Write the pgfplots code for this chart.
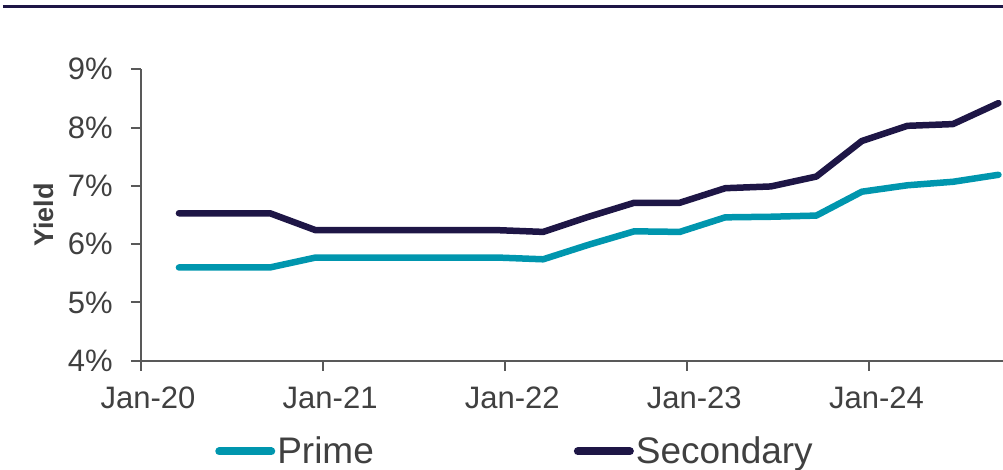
\documentclass[border=0pt]{standalone}
\usepackage{fontspec}
\setmainfont{Liberation Sans}
\usepackage{pgfplots}
\usepackage{pgfplotstable}
\pgfplotsset{compat=1.18}

\definecolor{prime}{HTML}{0096AE}
\definecolor{secondary}{HTML}{1E1646}
\definecolor{axisgrey}{HTML}{595959}
\definecolor{textgrey}{HTML}{404040}

% quarterly yields, x in months from Jan-20
\pgfplotstableread{
x     prime secondary
2.5   5.60  6.53
5.5   5.60  6.53
8.5   5.60  6.53
11.5  5.77  6.24
14.5  5.77  6.24
17.5  5.77  6.24
20.5  5.77  6.24
23.5  5.77  6.24
26.5  5.74  6.21
29.5  5.99  6.47
32.5  6.22  6.71
35.5  6.21  6.71
38.5  6.46  6.96
41.5  6.47  6.99
44.5  6.49  7.16
47.5  6.90  7.77
50.5  7.01  8.03
53.5  7.07  8.06
56.5  7.19  8.42
}\yields

\begin{document}
\begin{tikzpicture}
\useasboundingbox (-141pt,-108.3pt) rectangle (862pt,360.7pt);
\begin{axis}[
    at={(0pt,0pt)}, anchor=south west,
    scale only axis,
    width=862pt, height=291.4pt,
    xmin=0, xmax=56.8,
    ymin=4, ymax=9,
    axis lines=left,
    axis line style={-, axisgrey, line width=2pt},
    tick style={axisgrey, line width=2pt},
    tick align=outside,
    major tick length=10pt,
    xtick={0,12,24,36,48},
    xticklabels={Jan-20,Jan-21,Jan-22,Jan-23,Jan-24},
    ytick={4,5,6,7,8,9},
    yticklabels={4\%,5\%,6\%,7\%,8\%,9\%},
    ticklabel style={font=\fontsize{31}{36}\selectfont, text=textgrey},
    xticklabel style={anchor=north, inner sep=0pt, yshift=-16pt, xshift=7pt},
    yticklabel style={anchor=east, inner sep=0pt, xshift=-18pt},
    ylabel={Yield},
    ylabel style={at={(axis description cs:-0.1125,0.5)}, anchor=center,
        font=\bfseries\fontsize{27}{30}\selectfont, text=textgrey},
    legend columns=2,
    legend style={at={(axis description cs:0.0859,-0.3110)}, anchor=west,
        draw=none, fill=none, inner sep=0pt,
        font=\fontsize{37}{42}\selectfont, text=textgrey,
        nodes={inner sep=0pt},
        cells={anchor=west},
        /tikz/every odd column/.append style={column sep=2pt},
        /tikz/every even column/.append style={column sep=200pt}},
    legend image code/.code={\draw[#1, line width=8pt, line cap=round] (0pt,0pt) -- (52pt,0pt);},
]
\addplot[prime, line width=6.5pt, line cap=round, line join=round] table[x=x, y=prime] {\yields};
\addlegendentry{Prime}
\addplot[secondary, line width=6.5pt, line cap=round, line join=round] table[x=x, y=secondary] {\yields};
\addlegendentry{Secondary}
\end{axis}
\draw[secondary, line width=3pt] (-138pt,353.7pt) -- (862pt,353.7pt);
\end{tikzpicture}
\end{document}
